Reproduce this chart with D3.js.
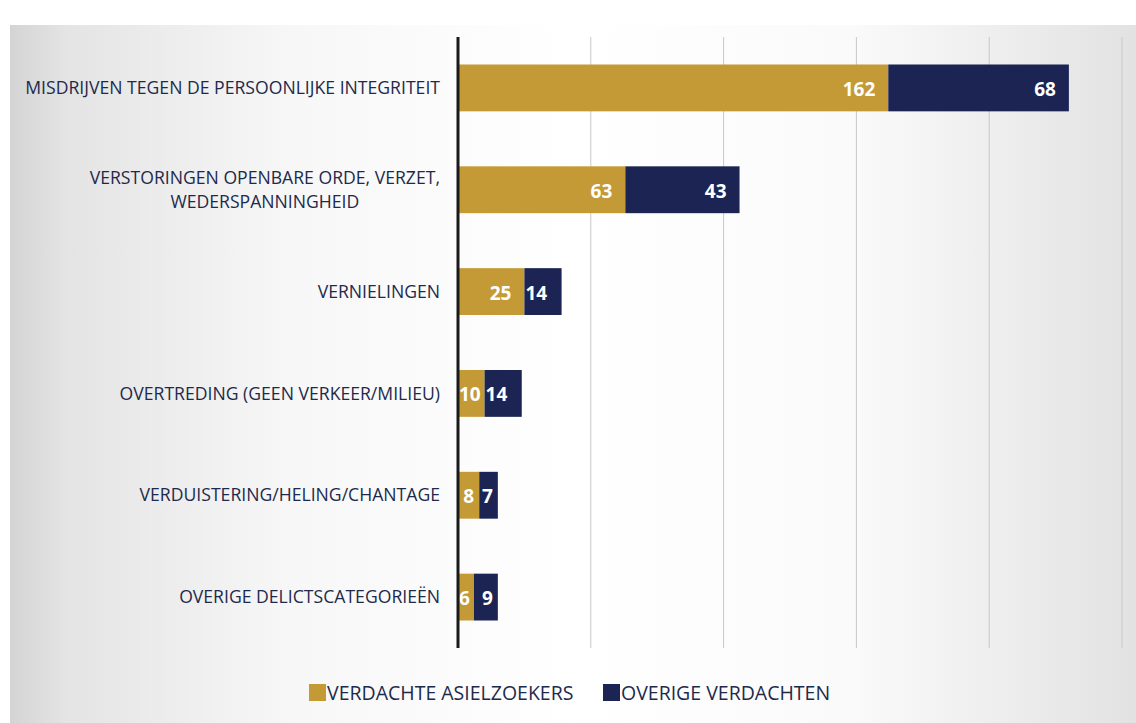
<!DOCTYPE html>
<html>
<head>
<meta charset="utf-8">
<script src="https://cdn.jsdelivr.net/npm/d3@7"></script>
<style>
  html, body { margin: 0; padding: 0; background: #ffffff; }
  svg { display: block; }
</style>
</head>
<body>
<svg id="chart" width="1136" height="723"></svg>
<script>
const categories = [
  "MISDRIJVEN TEGEN DE PERSOONLIJKE INTEGRITEIT",
  "VERSTORINGEN OPENBARE ORDE, VERZET,|WEDERSPANNINGHEID",
  "VERNIELINGEN",
  "OVERTREDING (GEEN VERKEER/MILIEU)",
  "VERDUISTERING/HELING/CHANTAGE",
  "OVERIGE DELICTSCATEGORIEËN"
];
const asielzoekers = [162, 63, 25, 10, 8, 6];
const overige = [68, 43, 14, 14, 7, 9];
const seriesNames = ["VERDACHTE ASIELZOEKERS", "OVERIGE VERDACHTEN"];
const gridTicks = [0, 50, 100, 150, 200, 250];

const colors = ["#c49a36", "#1b2453"];
const textColor = "#1e2a4c";
const font = "'Open Sans', 'Noto Sans', sans-serif";

const svg = d3.select("#chart");
const W = 1136, H = 723;

// background panel (photographed slide)
const defs = svg.append("defs");
const g1 = defs.append("linearGradient").attr("id", "bgH").attr("x1", 0).attr("x2", 1).attr("y1", 0).attr("y2", 0);
[[0, "#d4d4d4"], [0.05, "#e4e4e4"], [0.25, "#f7f7f7"], [0.5, "#ffffff"], [0.75, "#fafafa"], [1, "#e2e2e2"]]
  .forEach(([o, c]) => g1.append("stop").attr("offset", o).attr("stop-color", c));
svg.append("rect").attr("x", 10).attr("y", 25).attr("width", W - 10).attr("height", H - 25).attr("fill", "url(#bgH)");

const margin = { left: 458, right: 14, top: 37, bottom: 75 };
const x = d3.scaleLinear().domain([0, 250]).range([margin.left, 1122]);
const y = d3.scaleBand().domain(d3.range(categories.length)).range([margin.top, H - margin.bottom]).paddingInner(0.54).paddingOuter(0.27);

// gridlines
svg.append("g").selectAll("line").data(gridTicks.slice(1)).join("line")
  .attr("x1", d => x(d)).attr("x2", d => x(d))
  .attr("y1", margin.top).attr("y2", H - margin.bottom)
  .attr("stroke", "#c8c8c8").attr("stroke-width", 1);

// stacked bars
const rows = categories.map((c, i) => ({ i, vals: [asielzoekers[i], overige[i]] }));
const segs = [];
rows.forEach(r => {
  let acc = 0;
  r.vals.forEach((v, s) => { segs.push({ i: r.i, s, x0: acc, x1: acc + v, v }); acc += v; });
});
svg.append("g").selectAll("rect").data(segs).join("rect")
  .attr("x", d => x(d.x0)).attr("width", d => x(d.x1) - x(d.x0))
  .attr("y", d => y(d.i)).attr("height", y.bandwidth())
  .attr("fill", d => colors[d.s]);

// value labels
svg.append("g").selectAll("text").data(segs).join("text")
  .attr("font-family", font).attr("font-weight", 700).attr("font-size", 19)
  .attr("fill", "#ffffff").attr("dominant-baseline", "central")
  .attr("y", d => y(d.i) + y.bandwidth() / 2 + 1)
  .text(d => d.v)
  .each(function (d) {
    const w = this.getComputedTextLength();
    const segW = x(d.x1) - x(d.x0);
    let pad = segW > 60 ? 13 : (segW > 35 ? 16 : 5);
    let xe = x(d.x1) - pad;
    if (xe - w < x(d.x0) + 1) xe = x(d.x0) + 1 + w;
    d3.select(this).attr("x", xe).attr("text-anchor", "end");
  });

// axis line
svg.append("line").attr("x1", x(0)).attr("x2", x(0)).attr("y1", margin.top).attr("y2", H - margin.bottom)
  .attr("stroke", "#1a1a1a").attr("stroke-width", 3);

// category labels
const labelG = svg.append("g");
const labelSize = 17.5;
categories.forEach((c, i) => {
  const lines = c.split("|");
  const cy = y(i) + y.bandwidth() / 2;
  const lh = 24;
  const t = labelG.append("text")
    .attr("font-family", font).attr("font-size", labelSize).attr("fill", textColor)
    .attr("text-anchor", lines.length > 1 ? "middle" : "end");
  lines.forEach((ln, k) => {
    t.append("tspan")
      .attr("x", 440)
      .attr("y", cy + (k - (lines.length - 1) / 2) * lh)
      .attr("dy", "0.35em")
      .text(ln);
  });
});
// fit font so the longest label spans the reference width, then center multi-line labels
const longest = labelG.select("text").node().getComputedTextLength();
const fitted = labelSize * 415 / longest;
labelG.selectAll("text").attr("font-size", fitted);
labelG.selectAll("text").each(function () {
  const spans = d3.select(this).selectAll("tspan");
  if (spans.size() > 1) {
    const w = spans.nodes()[0].getComputedTextLength();
    spans.attr("x", 440 - w / 2);
  }
});

// legend
const legend = svg.append("g");
const legItems = [{ name: seriesNames[0], c: colors[0], x: 309 }, { name: seriesNames[1], c: colors[1], x: 603 }];
legItems.forEach(it => {
  legend.append("rect").attr("x", it.x).attr("y", 684).attr("width", 17).attr("height", 17).attr("fill", it.c);
  legend.append("text").attr("x", it.x + 18).attr("y", 693).attr("dy", "0.35em")
    .attr("font-family", font).attr("font-size", 19.5).attr("fill", textColor).text(it.name);
});
</script>
</body>
</html>
